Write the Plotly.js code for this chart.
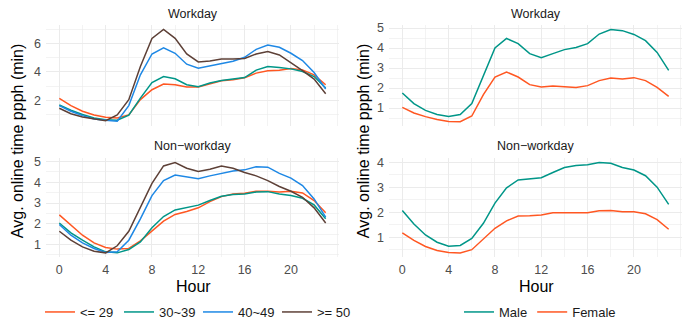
<!DOCTYPE html>
<html>
<head>
<meta charset="utf-8">
<script src="https://cdn.plot.ly/plotly-3.0.1.min.js"></script>
<style>html,body{margin:0;padding:0;background:#fff;}#chart{width:691px;height:327px;}</style>
</head>
<body>
<div id="chart"></div>
<script>
// ---- data ----
const hours = [0,1,2,3,4,5,6,7,8,9,10,11,12,13,14,15,16,17,18,19,20,21,22,23];
const hourTicks = [0,4,8,12,16,20];
const ageGroups = ["<= 29", "30~39", "40~49", ">= 50"];
const genders = ["Male", "Female"];
const panelTitles = ["Workday", "Non\u2212workday"];

// Age groups, workday
const ageWork_29 = [2.14,1.63,1.23,0.97,0.81,0.76,0.97,2.05,2.75,3.15,3.10,2.94,2.94,3.17,3.38,3.45,3.60,3.92,4.08,4.13,4.25,4.15,3.80,3.10];
const ageWork_30 = [1.67,1.30,1.00,0.76,0.64,0.60,0.95,2.16,3.26,3.68,3.52,3.10,2.96,3.22,3.40,3.50,3.61,4.13,4.39,4.32,4.22,4.03,3.68,2.87];
const ageWork_40 = [1.63,1.23,0.92,0.69,0.60,0.53,1.63,3.80,5.27,5.70,5.32,4.55,4.27,4.43,4.62,4.76,5.04,5.60,5.90,5.74,5.32,4.81,3.96,2.80];
const ageWork_50 = [1.44,1.06,0.83,0.69,0.57,0.97,2.05,4.39,6.37,7.00,6.37,5.27,4.71,4.78,4.92,4.92,4.95,5.27,5.44,5.20,4.67,4.10,3.50,2.47];
// Age groups, non-workday
const ageNon_29 = [2.43,1.92,1.45,1.08,0.86,0.78,0.81,1.18,1.64,2.13,2.45,2.59,2.77,3.07,3.31,3.44,3.47,3.57,3.57,3.53,3.57,3.49,3.12,2.53];
const ageNon_30 = [2.04,1.56,1.21,0.89,0.65,0.60,0.76,1.13,1.81,2.35,2.67,2.77,2.90,3.12,3.33,3.41,3.44,3.53,3.55,3.44,3.36,3.23,2.91,2.24];
const ageNon_40 = [1.97,1.45,1.08,0.81,0.62,0.65,1.21,2.24,3.36,4.08,4.35,4.27,4.17,4.31,4.44,4.54,4.60,4.75,4.73,4.43,4.20,3.84,3.20,2.32];
const ageNon_50 = [1.64,1.21,0.89,0.68,0.60,0.94,1.64,2.80,3.95,4.79,4.95,4.68,4.52,4.63,4.78,4.68,4.47,4.31,4.08,3.80,3.57,3.28,2.77,2.04];
// Gender, workday
const genWork_male   = [1.75,1.22,0.88,0.68,0.58,0.68,1.22,2.62,4.00,4.48,4.22,3.72,3.52,3.72,3.92,4.03,4.22,4.70,4.93,4.87,4.68,4.37,3.78,2.88];
const genWork_female = [1.03,0.75,0.57,0.43,0.33,0.32,0.60,1.67,2.55,2.80,2.55,2.17,2.05,2.10,2.07,2.03,2.12,2.37,2.50,2.45,2.52,2.37,2.03,1.58];
// Gender, non-workday
const genNon_male   = [2.07,1.53,1.09,0.80,0.64,0.67,0.95,1.56,2.37,2.98,3.30,3.34,3.39,3.60,3.80,3.88,3.91,4.00,3.97,3.80,3.70,3.47,3.01,2.32];
const genNon_female = [1.18,0.87,0.63,0.47,0.39,0.37,0.50,0.92,1.36,1.66,1.85,1.86,1.89,1.98,1.98,1.98,1.98,2.06,2.07,2.02,2.02,1.94,1.71,1.32];

// ---- styling ----
const ageColors = ["#FF5722", "#009688", "#1E88E5", "#5D4037"];
const genColors = ["#009688", "#FF5722"];
const FONT = "Liberation Sans, Arial, Helvetica, sans-serif";

const ageWork = [ageWork_29, ageWork_30, ageWork_40, ageWork_50];
const ageNon = [ageNon_29, ageNon_30, ageNon_40, ageNon_50];
const genWork = [genWork_male, genWork_female];
const genNon = [genNon_male, genNon_female];

const traces = [];
function addSet(sets, names, colors, xa, ya, legendName, show) {
  sets.forEach((ys, i) => {
    traces.push({
      x: hours, y: ys, type: "scatter", mode: "lines",
      name: names[i], line: {color: colors[i], width: 1.5},
      xaxis: xa, yaxis: ya, legend: legendName, showlegend: show,
      hoverinfo: "x+y+name"
    });
  });
}
addSet(ageWork, ageGroups, ageColors, "x", "y", "legend", true);
addSet(ageNon, ageGroups, ageColors, "x3", "y3", "legend", false);
addSet(genWork, genders, genColors, "x2", "y2", "legend2", true);
addSet(genNon, genders, genColors, "x4", "y4", "legend2", false);

const W = 691, H = 327;
const xL = [46/W, 339/W], xR = [389/W, 682/W];
const yT = [1-127/H, 1-25/H], yB = [1-259/H, 1-159/H];

function xAxis(domain, anchor, showLabels) {
  return {
    domain: domain, anchor: anchor, range: [-1.15, 24.15],
    tickmode: "array", tickvals: hourTicks, ticktext: hourTicks.map(String),
    showticklabels: showLabels,
    ticks: "", showline: false, zeroline: false,
    gridcolor: "#EBEBEB", gridwidth: 1,
    minor: {tickmode: "linear", tick0: 0, dtick: 2, showgrid: true, gridcolor: "#EBEBEB", gridwidth: 0.6, ticks: ""},
    tickfont: {family: FONT, size: 12.5, color: "#4D4D4D"},
    ticklabelstandoff: 3
  };
}
function yAxis(domain, anchor, range, dtick) {
  return {
    domain: domain, anchor: anchor, range: range,
    tickmode: "linear", tick0: 0, dtick: dtick,
    ticks: "", showline: false, zeroline: false,
    gridcolor: "#EBEBEB", gridwidth: 1,
    minor: {tickmode: "linear", tick0: 0, dtick: dtick/2, showgrid: true, gridcolor: "#EBEBEB", gridwidth: 0.6, ticks: ""},
    tickfont: {family: FONT, size: 12.5, color: "#4D4D4D"},
    ticklabelstandoff: 4
  };
}

const ann = [];
function strip(text, xc, yc) {
  ann.push({text: text, x: xc, y: yc, xref: "paper", yref: "paper", showarrow: false,
    xanchor: "center", yanchor: "middle", font: {family: FONT, size: 12.5, color: "#1A1A1A"}});
}
strip(panelTitles[0], 192.5/W, 1-14/H);
strip(panelTitles[0], 535.5/W, 1-14/H);
strip(panelTitles[1], 192.5/W, 1-147/H);
strip(panelTitles[1], 535.5/W, 1-147/H);
function title(text, xc, yc, angle) {
  ann.push({text: text, x: xc, y: yc, xref: "paper", yref: "paper", showarrow: false,
    xanchor: "center", yanchor: "middle", textangle: angle, font: {family: FONT, size: 16, color: "#000000"}});
}
title("Avg. online time ppph (min)", 17/W, 1-142/H, -90);
title("Avg. online time ppph (min)", 363/W, 1-142/H, -90);
title("Hour", 193/W, 1-288/H, 0);
title("Hour", 536/W, 1-288/H, 0);

const legendFont = {family: FONT, size: 13, color: "#1A1A1A"};
const layout = {
  width: W, height: H,
  margin: {l: 0, r: 0, t: 0, b: 0},
  paper_bgcolor: "#ffffff", plot_bgcolor: "#ffffff",
  font: {family: FONT},
  xaxis: xAxis(xL, "y", false),
  yaxis: yAxis(yT, "x", [0.175, 7.325], 2),
  xaxis2: xAxis(xR, "y2", false),
  yaxis2: yAxis(yT, "x2", [0.09, 5.16], 1),
  xaxis3: xAxis(xL, "y3", true),
  yaxis3: yAxis(yB, "x3", [0.38, 5.17], 1),
  xaxis4: xAxis(xR, "y4", true),
  yaxis4: yAxis(yB, "x4", [0.19, 4.18], 1),
  legend: {orientation: "h", x: 198/W, xanchor: "center", y: 1-314/H, yanchor: "middle",
    font: legendFont, bgcolor: "rgba(0,0,0,0)", itemwidth: 30, tracegroupgap: 0,
    entrywidthmode: "pixels", entrywidth: 34},
  legend2: {orientation: "h", x: 540/W, xanchor: "center", y: 1-314/H, yanchor: "middle",
    font: legendFont, bgcolor: "rgba(0,0,0,0)", itemwidth: 30, tracegroupgap: 0},
  annotations: ann,
  showlegend: true
};

Plotly.newPlot("chart", traces, layout, {displayModeBar: false, staticPlot: true});
</script>
</body>
</html>
